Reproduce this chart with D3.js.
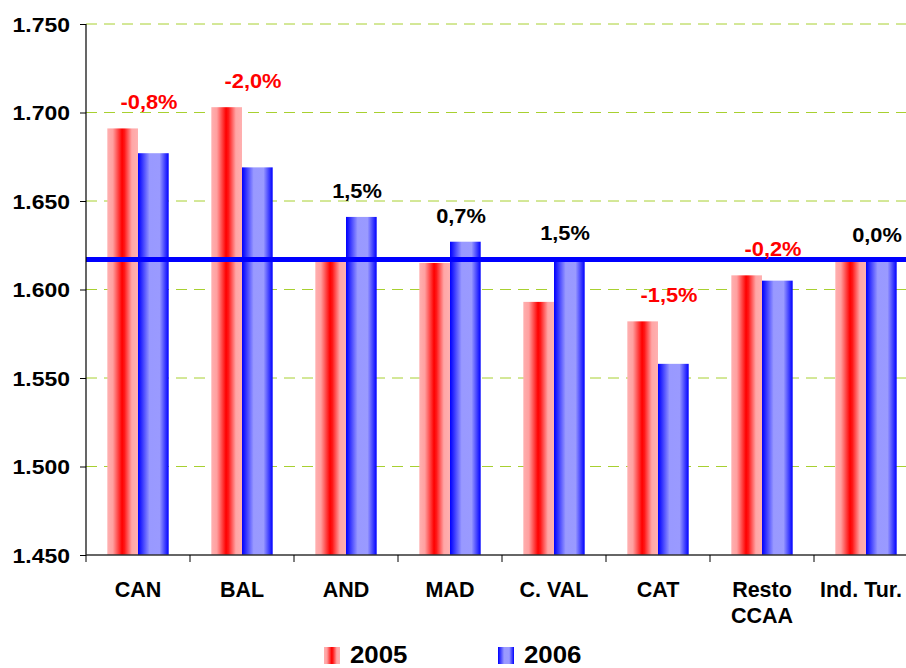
<!DOCTYPE html>
<html>
<head>
<meta charset="utf-8">
<script src="https://cdn.jsdelivr.net/npm/d3@7/dist/d3.min.js"></script>
<style>
  html, body { margin: 0; padding: 0; background: #fff; }
  svg { display: block; font-family: "Liberation Sans", Arial, sans-serif; font-weight: bold; }
</style>
</head>
<body>
<svg id="chart" width="906" height="668"></svg>
<script>
// Regions (two-line labels split on "\n")
const categories = ["CAN", "BAL", "AND", "MAD", "C. VAL", "CAT", "Resto\nCCAA", "Ind. Tur."];
const series2005 = [1691, 1703, 1617, 1615, 1593, 1582, 1608, 1616];
const series2006 = [1677, 1669, 1641, 1627, 1617, 1558, 1605, 1616];
// Year-on-year change, percent
const changes = [-0.8, -2.0, 1.5, 0.7, 1.5, -1.5, -0.2, 0.0];
// Reference level drawn as a horizontal line
const referenceLevel = [1617];
const yTicks = [1450, 1500, 1550, 1600, 1650, 1700, 1750];
const seriesNames = ["2005", "2006"];

const es = d3.formatLocale({ decimal: ",", thousands: ".", grouping: [3], currency: ["", " €"], minus: "-" });
const fmtTick = es.format(",.0f");
const fmtPct = es.format(".1f");

const svg = d3.select("#chart");
const W = 906;
const plotLeft = 86, plotTop = 24, plotBottom = 555;
const bandW = 104;

const x = d3.scaleBand()
  .domain(categories)
  .range([plotLeft, plotLeft + bandW * categories.length])
  .paddingInner(0).paddingOuter(0);
const y = d3.scaleLinear().domain([1450, 1750]).range([plotBottom, plotTop]);

const barW = x.bandwidth() * 0.295;
const sx = 1.12; // horizontal stretch for the numeric text

// Gradients for the bars
const defs = svg.append("defs");
const redGrad = defs.append("linearGradient").attr("id", "gRed").attr("x1", 0).attr("x2", 1).attr("y1", 0).attr("y2", 0);
[[0, "#ffb0b0"], [0.18, "#ffa0a0"], [0.48, "#ff0000"], [0.56, "#ff1818"], [0.8, "#ffa6a6"], [1, "#ffb0b0"]]
  .forEach(([o, c]) => redGrad.append("stop").attr("offset", o).attr("stop-color", c));
const blueGrad = defs.append("linearGradient").attr("id", "gBlue").attr("x1", 0).attr("x2", 1).attr("y1", 0).attr("y2", 0);
[[0, "#0000ff"], [0.06, "#1515ff"], [0.38, "#9999ff"], [0.7, "#9a9aff"], [0.92, "#2a2aff"], [1, "#0000ff"]]
  .forEach(([o, c]) => blueGrad.append("stop").attr("offset", o).attr("stop-color", c));
const fills = ["url(#gRed)", "url(#gBlue)"];

// Gridlines
svg.append("g").selectAll("line")
  .data(yTicks.filter(t => t > 1450))
  .join("line")
  .attr("x1", plotLeft).attr("x2", W)
  .attr("y1", d => y(d)).attr("y2", d => y(d))
  .attr("stroke", "#a8d030").attr("stroke-width", 1)
  .attr("stroke-dasharray", "11,7");

// Bars
const groups = svg.append("g").selectAll("g")
  .data(categories.map((c, i) => ({ c, i, vals: [series2005[i], series2006[i]] })))
  .join("g");
groups.selectAll("rect")
  .data(d => d.vals.map((v, k) => ({ c: d.c, v, k })))
  .join("rect")
  .attr("x", d => x(d.c) + x.bandwidth() / 2 - barW + d.k * barW)
  .attr("y", d => y(d.v))
  .attr("width", barW)
  .attr("height", d => plotBottom - y(d.v))
  .attr("fill", d => fills[d.k]);

// Reference line
svg.append("line")
  .attr("x1", plotLeft).attr("x2", W)
  .attr("y1", y(referenceLevel[0])).attr("y2", y(referenceLevel[0]))
  .attr("stroke", "#0000ff").attr("stroke-width", 5);

// Y axis
const yAxis = svg.append("g")
  .attr("transform", `translate(${plotLeft},0)`)
  .call(d3.axisLeft(y).tickValues(yTicks).tickFormat(fmtTick).tickSize(6).tickPadding(0));
yAxis.select(".domain").attr("stroke", "#000").attr("stroke-width", 1.2).attr("d", `M0,${plotTop}V${plotBottom}`);
yAxis.selectAll(".tick line").attr("stroke", "#000");
yAxis.selectAll(".tick text")
  .attr("x", -16 / sx).attr("dy", "0.36em")
  .attr("transform", `scale(${sx},1)`)
  .attr("font-size", 20.5).attr("font-family", "Liberation Sans, Arial, sans-serif")
  .attr("font-weight", "bold").attr("fill", "#000");

// X axis
const xAxis = svg.append("g").attr("transform", `translate(0,${plotBottom})`);
xAxis.append("line").attr("x1", plotLeft).attr("x2", W).attr("y1", 0).attr("y2", 0)
  .attr("stroke", "#333").attr("stroke-width", 1.5);
xAxis.selectAll("line.tk")
  .data(categories)
  .join("line").attr("class", "tk")
  .attr("x1", d => x(d)).attr("x2", d => x(d))
  .attr("y1", 0).attr("y2", 7)
  .attr("stroke", "#000");
xAxis.selectAll("text")
  .data(categories)
  .join("text")
  .attr("text-anchor", "middle")
  .attr("font-size", 21.5)
  .attr("fill", "#000")
  .each(function (d) {
    const t = d3.select(this);
    d.split("\n").forEach((line, j) => {
      t.append("tspan")
        .attr("x", x(d) + x.bandwidth() / 2 + (d === "Ind. Tur." ? -5 : 0))
        .attr("y", 42 + j * 26)
        .text(line);
    });
  });

// Change labels above each pair of bars
svg.append("g").selectAll("text")
  .data(categories.map((c, i) => ({ c, i })))
  .join("text")
  .attr("text-anchor", "middle")
  .attr("transform", d => {
    const hi = Math.max(series2005[d.i], series2006[d.i]);
    return `translate(${x(d.c) + x.bandwidth() / 2 + 11},${y(hi) - 19}) scale(${sx},1)`;
  })
  .attr("font-size", 19.5)
  .attr("fill", d => changes[d.i] < 0 ? "#ff0000" : "#000")
  .text(d => fmtPct(changes[d.i]) + "%");

// Legend
const legend = svg.append("g");
const legendX = [324, 498];
seriesNames.forEach((name, k) => {
  legend.append("rect")
    .attr("x", legendX[k]).attr("y", 647)
    .attr("width", 16).attr("height", 17)
    .attr("fill", fills[k]);
  legend.append("text")
    .attr("transform", `translate(${legendX[k] + 26},663) scale(1.1,1)`)
    .attr("font-size", 23.5)
    .attr("fill", "#000")
    .text(name);
});
</script>
</body>
</html>
